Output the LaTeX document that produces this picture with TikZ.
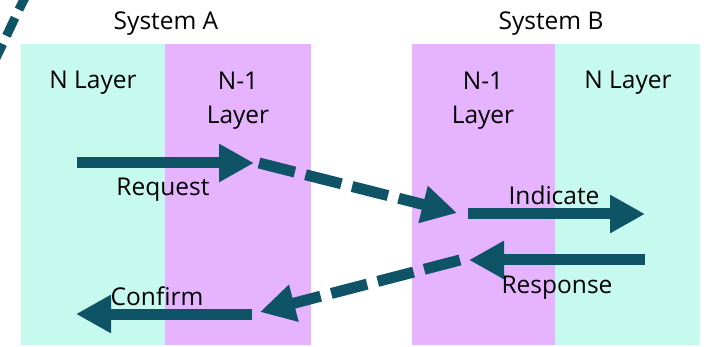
\documentclass[tikz,border=0pt]{standalone}
\usepackage{fontspec}
\setmainfont{Open Sans}
\usetikzlibrary{arrows.meta}
\definecolor{layercyan}{RGB}{198,250,238}
\definecolor{layerpurple}{RGB}{230,180,255}
\definecolor{arrowteal}{RGB}{14,83,102}
\begin{document}
\begin{tikzpicture}[x=1pt,y=-1pt,
  layer/.style={inner sep=0pt,outer sep=0pt,anchor=north west},
  lbl/.style={font=\fontsize{24.5}{34}\selectfont,inner sep=0pt,align=center},
  flow/.style={draw=arrowteal,line width=11pt,-{Triangle[length=35pt,width=36pt]}},
  dflow/.style={flow,dash pattern=on 37pt off 11pt}]
\useasboundingbox (0,0) rectangle (717,347);
\clip (0,0) rectangle (717,347);
% layers
\node[layer,fill=layercyan,minimum width=144pt,minimum height=301pt] (aN) at (21,44) {};
\node[layer,fill=layerpurple,minimum width=146pt,minimum height=301pt] (aN1) at (165,44) {};
\node[layer,fill=layerpurple,minimum width=143pt,minimum height=301pt] (bN1) at (412,44) {};
\node[layer,fill=layercyan,minimum width=145pt,minimum height=301pt] (bN) at (555,44) {};
% titles
\node[lbl] (tA) at (166,24) {System A};
\node[lbl] (tB) at (551,24) {System B};
\node[lbl] (lAN) at (93,83) {N Layer};
\node[lbl] (lAN1) at (238,101) {N-1\\Layer};
\node[lbl] (lBN1) at (483,101) {N-1\\Layer};
\node[lbl] (lBN) at (628,83) {N Layer};
% coordinates
\coordinate (reqS) at (77,163);
\coordinate (reqE) at (254,163);
\coordinate (d1S) at (259,163);
\coordinate (indT) at (457,213);
\coordinate (indS) at (468,214);
\coordinate (indE) at (645,214);
\coordinate (resS) at (645,260);
\coordinate (resE) at (469,260);
\coordinate (d2S) at (460,260);
\coordinate (cfT) at (260,312);
\coordinate (cfS) at (252,314);
\coordinate (cfE) at (76,314);
% arrows
\draw[flow] (reqS) -- (reqE);
\draw[dflow] (d1S) -- (indT);
\draw[flow] (indS) -- (indE);
\draw[flow] (resS) -- (resE);
\draw[dflow] (d2S) -- (cfT);
\draw[flow] (cfS) -- (cfE);
% labels
\node[lbl] (lReq) at (163,190) {Request};
\node[lbl] (lInd) at (554,195) {Indicate};
\node[lbl] (lRes) at (557,288) {Response};
\node[lbl] (lCf) at (157,296) {Confirm};
% partial dashed curve at top-left
\coordinate (cvS) at (-6,62);
\coordinate (cvE) at (28,-8);
\draw[draw=arrowteal,line width=9pt,dash pattern=on 20pt off 9pt] (cvS) .. controls (6,38) and (16,14) .. (cvE);
\end{tikzpicture}
\end{document}
